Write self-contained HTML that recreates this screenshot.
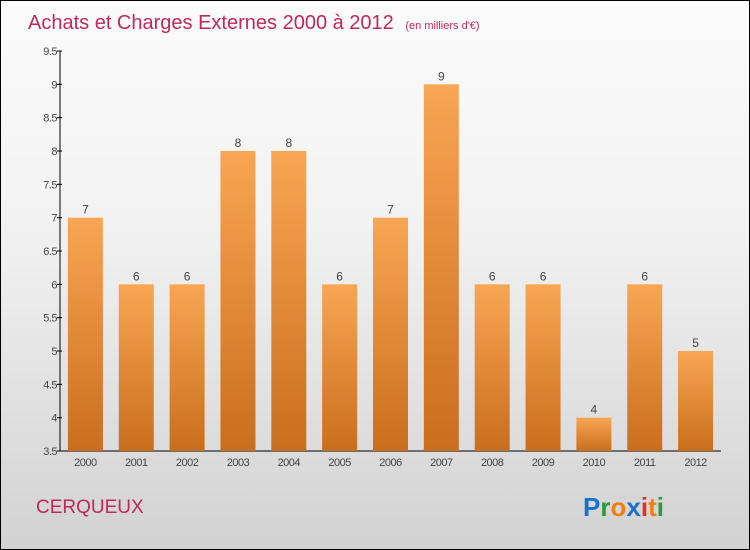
<!DOCTYPE html>
<html><head><meta charset="utf-8"><style>
html,body{margin:0;padding:0}
body{width:750px;height:550px;overflow:hidden;font-family:"Liberation Sans",sans-serif}
#wrap{position:relative;width:748px;height:548px;border:1px solid #000;background:linear-gradient(#fbfbfb,#f2f2f2 40%,#d2d2d2)}
</style></head><body>
<div id="wrap">
<svg id="chart" width="748" height="548" style="position:absolute;left:0;top:0">
<defs><linearGradient id="bg" x1="0" y1="0" x2="0" y2="1"><stop offset="0" stop-color="#f8a653"/><stop offset="1" stop-color="#c96e1d"/></linearGradient></defs>
<text x="27" y="28" font-size="20" fill="#c0285a">Achats et Charges Externes 2000 à 2012 <tspan font-size="11" dx="6">(en milliers d'€)</tspan></text>
<text x="35" y="512" font-size="19" fill="#c0285a">CERQUEUX</text>
<g font-size="26" font-weight="bold" font-family="'Liberation Sans',sans-serif">
<text x="582" y="515"><tspan fill="#1a73c8">P</tspan><tspan fill="#2a9a3a">r</tspan><tspan fill="#f08010">o</tspan><tspan fill="#1a73c8">x</tspan><tspan fill="#e03020">i</tspan><tspan fill="#f08010">t</tspan><tspan fill="#2a9a3a">i</tspan></text></g>
<g id="g"></g>
</svg>
</div>
<script>
const categories=["2000","2001","2002","2003","2004","2005","2006","2007","2008","2009","2010","2011","2012"];
const values=[7,6,6,8,8,6,7,9,6,6,4,6,5];
const ticks=[3.5,4,4.5,5,5.5,6,6.5,7,7.5,8,8.5,9,9.5];
const ns="http://www.w3.org/2000/svg";
const g=document.getElementById('g');
const x0=59,x1=720,yMin=3.5,yMax=9.5,yb=450,yt=50;
const y=v=>yb-(v-yMin)/(yMax-yMin)*(yb-yt);
const bw=(x1-x0)/categories.length;
const xc=i=>x0+bw*(i+0.5);
function mk(t,a){const e=document.createElementNS(ns,t);for(const k in a)e.setAttribute(k,a[k]);g.appendChild(e);return e;}
let e=mk('line',{x1:x0,y1:yt,x2:x0,y2:yb,stroke:'#000'});


e=mk('line',{x1:x0,y1:yb,x2:x1,y2:yb,stroke:'#000'});


ticks.forEach(t=>{
 let l=mk('line',{x1:x0-3,x2:x0+2,y1:y(t),y2:y(t),stroke:'#000'});
 
 
 let tx=mk('text',{x:x0-3,y:y(t)+4,'font-size':11,'text-anchor':'end',fill:'#444','letter-spacing':'-0.5'});
 tx.textContent=String(t);
 
 
});
categories.forEach((c,i)=>{
 const v=values[i];
 let r=mk('rect',{x:xc(i)-17.5,y:y(v),width:35,height:yb-y(v),fill:'url(#bg)'});
 
 
 let t=mk('text',{x:xc(i),y:y(v)-4,'font-size':12,'text-anchor':'middle',fill:'#444'});
 t.textContent=String(v);
 
 
 let xl=mk('text',{x:xc(i),y:465,'font-size':11,'text-anchor':'middle',fill:'#444','letter-spacing':'-0.5'});
 xl.textContent=c;
 
 
});
</script>
</body></html>
